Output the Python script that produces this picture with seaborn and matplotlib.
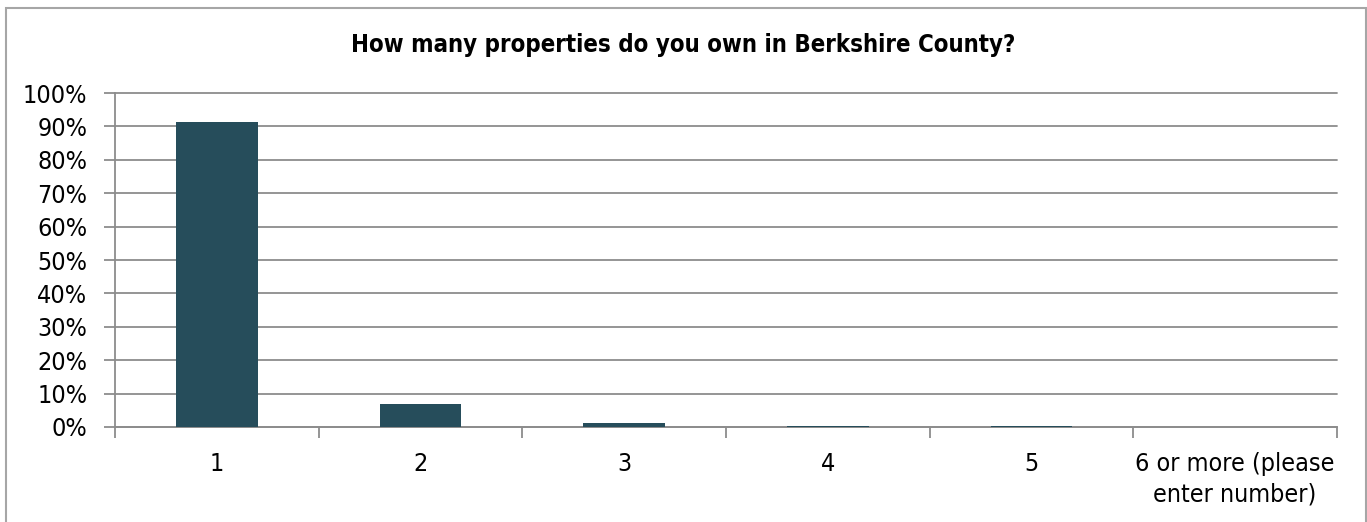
import matplotlib
matplotlib.use("Agg")
import matplotlib.pyplot as plt
import seaborn as sns
import pandas as pd
from matplotlib.patches import Rectangle
from matplotlib.ticker import FuncFormatter

categories = ["1", "2", "3", "4", "5", "6 or more (please\nenter number)"]
values = [91.3, 6.9, 1.2, 0.2, 0.2, 0.0]
yticks = [0, 10, 20, 30, 40, 50, 60, 70, 80, 90, 100]

sns.set_theme(style="white")
plt.rcParams['font.family'] = ['DejaVu Sans']
plt.rcParams['font.stretch'] = 'condensed'
plt.rcParams['text.color'] = 'black'
plt.rcParams['xtick.color'] = 'black'
plt.rcParams['ytick.color'] = 'black'

df = pd.DataFrame({"cat": categories, "val": values})

fig = plt.figure(figsize=(13.67, 5.22), dpi=100)
ax = fig.add_axes([115/1367, 1 - 427/522, (1337-115)/1367, (427-93)/522])

sns.barplot(data=df, x="cat", y="val", color="#264d5b", width=0.4,
            saturation=1, ax=ax, zorder=3)
for p in ax.patches:
    p.set_edgecolor("none")

grid_c = "#8c8c8c"
ax.set_ylim(0, 100)
ax.set_xlim(-0.5, len(categories) - 0.5)
ax.set_yticks(yticks)
ax.yaxis.set_major_formatter(FuncFormatter(lambda v, _: f"{int(v)}%"))
ax.grid(axis="y", color=grid_c, linewidth=1.3, zorder=0)
ax.set_axisbelow(True)
for gl in ax.get_ygridlines():
    gl.set_clip_on(False)

ax.set_xticks(range(len(categories)))
ax.set_xticklabels(categories, fontsize=18, linespacing=1.33)
ax.tick_params(axis="x", which="major", length=0, pad=18, labelcolor="black")
ax.set_xticks([i - 0.5 for i in range(len(categories) + 1)], minor=True)
ax.tick_params(axis="x", which="minor", length=8, width=1.3, color=grid_c, bottom=True)
ax.tick_params(axis="y", length=8, width=1.3, color=grid_c, labelsize=18,
               pad=12, left=True, labelcolor="black")

ax.set_xlabel("")
ax.set_ylabel("")
for s in ["top", "right"]:
    ax.spines[s].set_visible(False)
for s in ["left", "bottom"]:
    ax.spines[s].set_color(grid_c)
    ax.spines[s].set_linewidth(1.3)

fig.text(683/1367, 1 - 45/522, "How many properties do you own in Berkshire County?",
         ha="center", va="center", fontsize=17.2, fontweight="bold", color="black")

fig.patches.append(Rectangle((5.5/1367, -0.02), (1365.5 - 5.5)/1367, 1 - 7.5/522 + 0.02,
                             transform=fig.transFigure, fill=False,
                             edgecolor="#a6a6a6", linewidth=1.5))

fig.savefig("out.png", dpi=100)
